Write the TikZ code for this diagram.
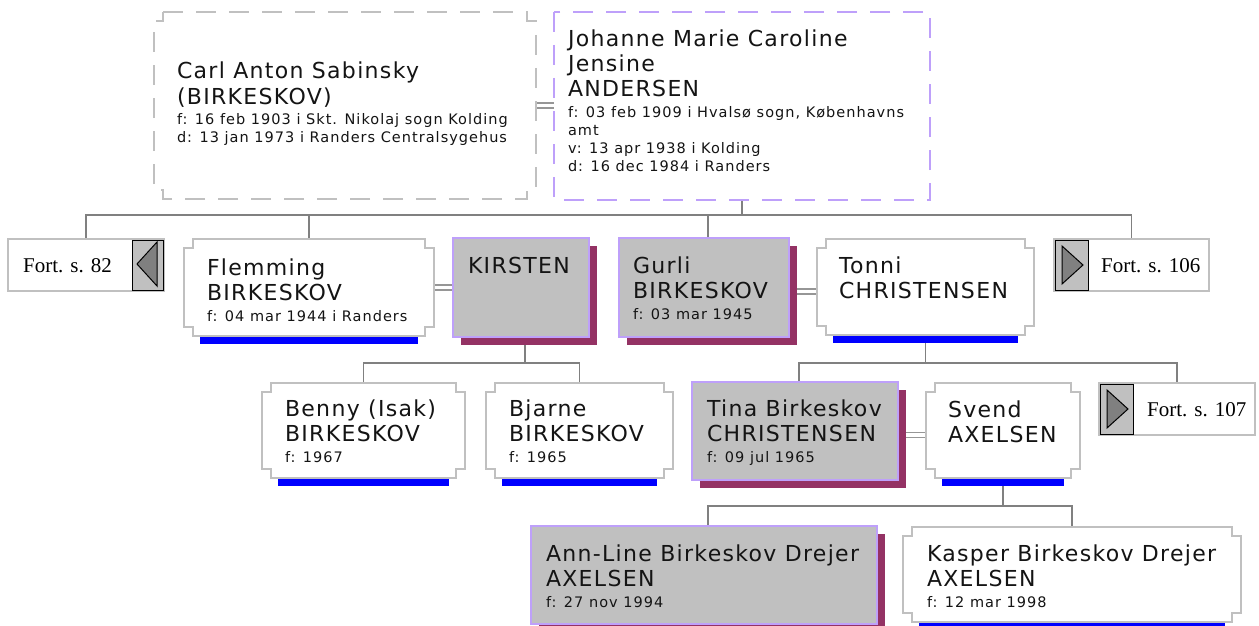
\documentclass[tikz,border=0pt]{standalone}
\usepackage{fontspec}
\setmainfont{Liberation Serif}
\newfontfamily\psfA[LetterSpace=6]{DejaVu Sans}
\newfontfamily\psfB[LetterSpace=7]{DejaVu Sans}
\newfontfamily\fortfont{Liberation Serif}
\definecolor{boxgray}{RGB}{192,192,192}
\definecolor{linegray}{RGB}{128,128,128}
\definecolor{dblgray}{RGB}{150,150,150}
\definecolor{lav}{RGB}{190,160,250}
\definecolor{shadowc}{RGB}{148,50,100}
\definecolor{fillgray}{RGB}{192,192,192}
\definecolor{barblue}{RGB}{0,0,255}
\definecolor{trigray}{RGB}{128,128,128}
\definecolor{txt}{RGB}{20,20,20}
\pgfdeclarelayer{background}
\pgfsetlayers{background,main}
\newcommand\nmf{\psfA\fontsize{22}{25}\selectfont}
\newcommand\smf{\psfB\fontsize{14.5}{18}\selectfont}
\newcommand\ptext[2]{\parbox[t]{14cm}{\raggedright\nmf #1\par\vspace{3pt}\smf #2\par}}
\tikzset{
  area/.style={rectangle, inner sep=0pt, outer sep=0pt, draw=none},
  conn/.style={draw=linegray, line width=1.5pt},
  dbl/.style={draw=dblgray, line width=1.3pt, double=white, double distance=3.5pt},
  notch/.style={draw=boxgray, line width=1.5pt, fill=white},
  grayfill/.style={fill=fillgray, draw=lav, line width=1.5pt},
  shadowfill/.style={fill=shadowc},
  bar/.style={fill=barblue},
  txtnode/.style={anchor=base west, inner sep=0pt, outer sep=0pt, text=txt},
  fortframe/.style={draw=boxgray, line width=1.5pt, fill=white},
  button/.style={draw=black, line width=1pt, fill=fillgray},
  tri/.style={draw=black, line width=1pt, fill=trigray, line join=miter},
  forttxt/.style={anchor=base west, inner sep=0pt, text=black, font=\fortfont\fontsize{21}{24}\selectfont}
}
\newcommand\notchpath[4]{(#1+9,#2) -- (#3-9,#2) -- (#3-9,#2+9) -- (#3,#2+9) -- (#3,#4-9) -- (#3-9,#4-9) -- (#3-9,#4) -- (#1+9,#4) -- (#1+9,#4-9) -- (#1,#4-9) -- (#1,#2+9) -- (#1+9,#2+9) -- cycle}
% name, x0, y0, x1, y1
\newcommand\personbox[5]{%
  \fill[bar] (#2+16,#5) rectangle (#4-16,#5+8);
  \path[notch] \notchpath{#2}{#3}{#4}{#5};
  \node[area, minimum width={#4-#2}, minimum height={#5-#3}] (#1) at ({(#2+#4)/2},{(#3+#5)/2}) {};
}
\newcommand\graybox[5]{%
  \fill[shadowfill] (#2+8,#3+8) rectangle (#4+8,#5+8);
  \path[grayfill] (#2,#3) rectangle (#4,#5);
  \node[area, minimum width={#4-#2+8}, minimum height={#5-#3+8}] (#1) at ({(#2+#4+8)/2},{(#3+#5+8)/2}) {};
}
\begin{document}
\begin{tikzpicture}[x=1pt, y=-1pt]
\useasboundingbox (0,0) rectangle (1259,626);
\begin{pgfonlayer}{background}
\fill[white] (0,0) rectangle (1259,626);
\end{pgfonlayer}

% ---- generation 1
\path[draw=boxgray, line width=1.5pt, fill=white, dash pattern=on 20pt off 13pt] \notchpath{154}{12}{536}{199};
\node[area, minimum width=382, minimum height=187] (carl) at (345,105.5) {};
\path[draw=lav, line width=1.5pt, fill=white, dash pattern=on 20pt off 13pt] (554,12) rectangle (930,200);
\node[area, minimum width=376, minimum height=188] (johanne) at (742,106) {};
\node[txtnode] (carlT) at (177,79) {\ptext{Carl Anton Sabinsky\\(BIRKESKOV)}{f: 16 feb 1903 i Skt. Nikolaj sogn Kolding\\d: 13 jan 1973 i Randers Centralsygehus}};
\node[txtnode] (johanneT) at (568,47) {\ptext{Johanne Marie Caroline\\Jensine\\ANDERSEN}{f: 03 feb 1909 i Hvalsø sogn, Københavns\\amt\\v: 13 apr 1938 i Kolding\\d: 16 dec 1984 i Randers}};

% ---- generation 2
\path[fortframe] (8,239) rectangle (164,291);
\node[area, minimum width=156, minimum height=52] (fort82) at (86,265) {};
\path[button] (132,240) rectangle (163,290);
\path[tri] (137,264) -- (157,242) -- (157,286) -- cycle;
\node[forttxt] (fort82T) at (23,272) {Fort. s. 82};

\personbox{flemming}{184}{239}{434}{336}
\node[txtnode] (flemmingT) at (207,275) {\ptext{Flemming\\BIRKESKOV}{f: 04 mar 1944 i Randers}};

\graybox{kirsten}{453}{238}{589}{337}
\node[txtnode] (kirstenT) at (468,273) {\ptext{KIRSTEN}{}};

\graybox{gurli}{619}{238}{789}{337}
\node[txtnode] (gurliT) at (633,273) {\ptext{Gurli\\BIRKESKOV}{f: 03 mar 1945}};

\personbox{tonni}{817}{239}{1034}{335}
\node[txtnode] (tonniT) at (839,273) {\ptext{Tonni\\CHRISTENSEN}{}};

\path[fortframe] (1054,239) rectangle (1209,291);
\node[area, minimum width=155, minimum height=52] (fort106) at (1131.5,265) {};
\path[button] (1055,240) rectangle (1088,290);
\path[tri] (1062,246) -- (1083,265) -- (1062,284) -- cycle;
\node[forttxt] (fort106T) at (1101,272) {Fort. s. 106};

% ---- generation 3
\personbox{benny}{262}{383}{465}{478}
\node[txtnode] (bennyT) at (285,416) {\ptext{Benny (Isak)\\BIRKESKOV}{f: 1967}};

\personbox{bjarne}{486}{383}{673}{478}
\node[txtnode] (bjarneT) at (509,416) {\ptext{Bjarne\\BIRKESKOV}{f: 1965}};

\graybox{tina}{692}{382}{898}{480}
\node[txtnode] (tinaT) at (707,416) {\ptext{Tina Birkeskov\\CHRISTENSEN}{f: 09 jul 1965}};

\personbox{svend}{926}{383}{1080}{478}
\node[txtnode] (svendT) at (948,417) {\ptext{Svend\\AXELSEN}{}};

\path[fortframe] (1099,383) rectangle (1255,435);
\node[area, minimum width=156, minimum height=52] (fort107) at (1177,409) {};
\path[button] (1100,384) rectangle (1133,434);
\path[tri] (1107,390) -- (1128,409) -- (1107,428) -- cycle;
\node[forttxt] (fort107T) at (1147,416) {Fort. s. 107};

% ---- generation 4
\graybox{annline}{531}{526}{877}{624}
\node[txtnode] (annlineT) at (546,561) {\ptext{Ann-Line Birkeskov Drejer\\AXELSEN}{f: 27 nov 1994}};

\personbox{kasper}{903}{527}{1241}{622}
\node[txtnode] (kasperT) at (927,561) {\ptext{Kasper Birkeskov Drejer\\AXELSEN}{f: 12 mar 1998}};

% ---- connectors
\begin{pgfonlayer}{background}
\coordinate (busA) at (0,215);
\coordinate (busB) at (0,363);
\coordinate (busC) at (0,506);
\draw[conn] (johanne.south) -- (johanne.south |- busA);
\draw[conn] (fort82.north) |- (fort106.north |- busA) -- (fort106.north);
\draw[conn] (flemming.north) -- (flemming.north |- busA);
\draw[conn] (gurli.north) -- (gurli.north |- busA);

\draw[conn] (kirsten.south) -- (kirsten.south |- busB);
\draw[conn] (benny.north) |- (bjarne.north |- busB) -- (bjarne.north);
\draw[conn] (tonni.south) -- (tonni.south |- busB);
\draw[conn] (tina.north) |- (fort107.north |- busB) -- (fort107.north);

\draw[conn] (svend.south) -- (svend.south |- busC);
\draw[conn] (annline.north) |- (kasper.north |- busC) -- (kasper.north);

\draw[dbl] (carl.east) -- (carl.east -| johanne.west);
\draw[dbl] (flemming.east) -- (flemming.east -| kirsten.west);
\draw[dbl] (gurli.east) -- (gurli.east -| tonni.west);
\draw[dbl] (tina.east) -- (tina.east -| svend.west);
\end{pgfonlayer}
\end{tikzpicture}
\end{document}
